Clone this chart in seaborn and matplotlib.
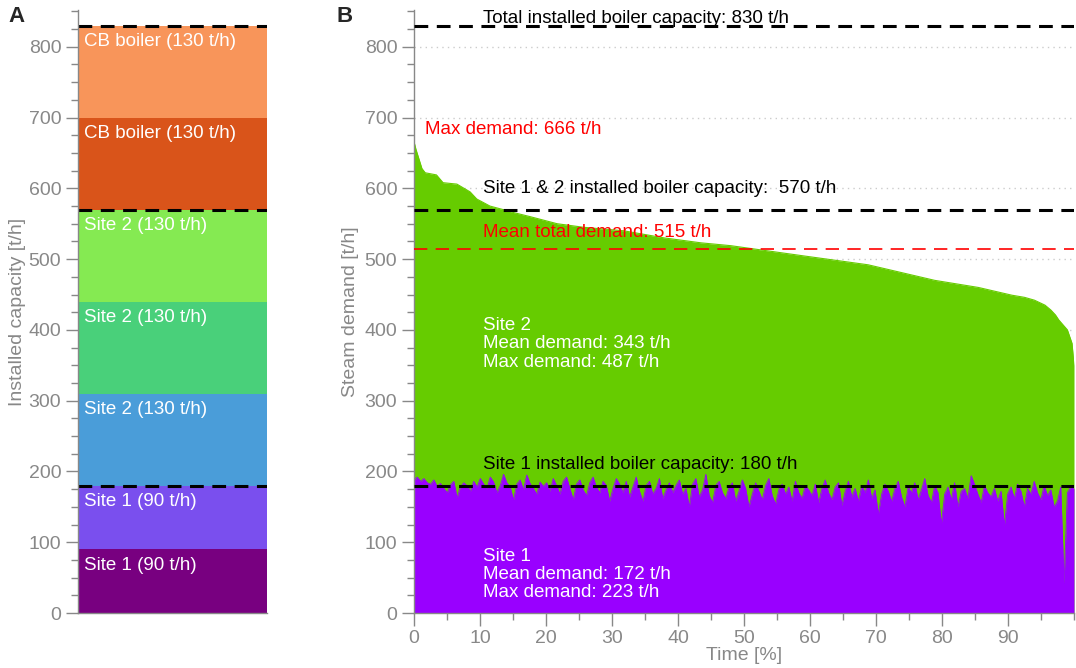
import matplotlib
matplotlib.use("Agg")
import matplotlib.pyplot as plt
from matplotlib.ticker import MultipleLocator
import numpy as np
import seaborn as sns

# Panel A: installed boiler units, bottom to top
unit_labels = ["Site 1 (90 t/h)", "Site 1 (90 t/h)", "Site 2 (130 t/h)", "Site 2 (130 t/h)",
               "Site 2 (130 t/h)", "CB boiler (130 t/h)", "CB boiler (130 t/h)"]
unit_caps = [90, 90, 130, 130, 130, 130, 130]
unit_colors = ["#780080", "#7a4fee", "#4a9dd9", "#49d07a", "#85ea52", "#d9541a", "#f8955a"]
capacity_levels = [180, 570, 830]

# Panel B: load duration curve of total demand (percent of time, t/h)
pct_total = [0, 0.3, 0.8, 1.2, 1.7, 3.4, 4.4, 6.5, 8.5, 9.5, 11.5, 13.5, 15.0, 17.6,
             21.7, 25.7, 31.8, 37.9, 43.5, 48.0, 58.7, 68.8, 78.9, 85.5, 90.6, 92.5,
             94.0, 95.6, 96.5, 97.2, 97.7, 99.0, 99.7, 100]
total_demand = [666, 655, 640, 628, 622, 619, 608, 606, 595, 585, 575, 570, 566, 560,
                550, 545, 540, 530, 523, 519, 505, 492, 470, 460, 449, 446,
                442, 435, 428, 421, 414, 400, 381, 350]

# Site 1 demand at the same sorted hours (0.5 % steps)
site1_demand = [
    188, 192, 186, 190, 184, 182, 188, 179, 183, 176, 170, 181, 186, 163, 178, 184, 180, 172, 186, 178,
    190, 182, 176, 192, 185, 170, 180, 196, 184, 178, 160, 182, 188, 174, 195, 183, 176, 168, 185, 179,
    184, 172, 190, 180, 168, 186, 192, 176, 160, 182, 188, 174, 166, 184, 192, 178, 170, 186, 180, 158,
    176, 190, 182, 170, 186, 164, 178, 192, 172, 158, 180, 186, 168, 176, 190, 162, 174, 184, 170, 180,
    188, 168, 176, 150, 182, 190, 164, 174, 196, 166, 156, 180, 186, 170, 162, 178, 184, 158, 172, 188,
    176, 150, 168, 184, 172, 160, 180, 190, 166, 154, 174, 182, 168, 178, 158, 186, 170, 162, 180, 174,
    166, 182, 156, 176, 188, 170, 160, 178, 184, 152, 172, 186, 164, 176, 158, 180, 170, 188, 162, 174,
    140, 168, 182, 172, 158, 176, 186, 164, 150, 178, 170, 184, 160, 174, 190, 166, 156, 180, 170, 126,
    168, 178, 160, 184, 150, 172, 176, 162, 194, 182, 168, 156, 180, 170, 164, 176, 158, 172, 124, 168,
    178, 162, 182, 172, 150, 176, 168, 186, 170, 160, 180, 166, 174, 150, 158, 178, 42, 170, 178, 176,
]

annotations = [
    (10.5, 840, "Total installed boiler capacity: 830 t/h", "black"),
    (10.5, 600, "Site 1 & 2 installed boiler capacity:  570 t/h", "black"),
    (10.5, 210, "Site 1 installed boiler capacity: 180 t/h", "black"),
    (1.7, 683, "Max demand: 666 t/h", "red"),
    (10.5, 537, "Mean total demand: 515 t/h", "red"),
]

sns.set_theme(style="white")
plt.rcParams["font.family"] = ["Liberation Sans", "DejaVu Sans"]
grey = "#888888"

fig = plt.figure(figsize=(10.76, 6.68), dpi=100)
ax_a = fig.add_axes([78 / 1076, 55 / 668, 189 / 1076, 603 / 668])
ax_b = fig.add_axes([414 / 1076, 55 / 668, 660 / 1076, 603 / 668])

def style_axis(ax):
    for side in ["top", "right"]:
        ax.spines[side].set_visible(False)
    for side in ["left", "bottom"]:
        ax.spines[side].set_color(grey)
        ax.spines[side].set_linewidth(1)
    ax.set_ylim(0, 852)
    ax.yaxis.set_major_locator(MultipleLocator(100))
    ax.yaxis.set_minor_locator(MultipleLocator(25))
    ax.tick_params(axis="both", which="major", direction="out", length=9, width=1,
                   color=grey, labelcolor=grey, labelsize=14, left=True, bottom=True, pad=3)
    ax.tick_params(axis="both", which="minor", direction="out", length=5, width=1,
                   color=grey, left=True, bottom=True)

# ---- Panel A
style_axis(ax_a)
bottom = 0
for lab, cap, col in zip(unit_labels, unit_caps, unit_colors):
    ax_a.bar(0, cap, bottom=bottom, width=1, color=col, edgecolor="none")
    ax_a.text(-0.47, bottom + cap - 23, lab, color="white", fontsize=13.5, va="center", ha="left")
    bottom += cap
for lvl in capacity_levels:
    ax_a.plot([-0.5, 0.5], [lvl, lvl], color="black", lw=2.2, dashes=(4.5, 2.8))
ax_a.set_xlim(-0.5, 0.5)
ax_a.set_xticks([])
ax_a.set_ylabel("Installed capacity [t/h]", color=grey, fontsize=14, labelpad=2)
fig.text(8 / 1076, 1 - 16 / 668, "A", fontsize=16, fontweight="bold", va="center")

# ---- Panel B
style_axis(ax_b)
ax_b.set_xlim(0, 100)
ax_b.set_xticks(range(0, 100, 10))
ax_b.xaxis.set_minor_locator(MultipleLocator(5))
for g in range(100, 900, 100):
    ax_b.axhline(g, color="#cccccc", lw=1, ls=(0, (1, 3)), zorder=0)

site1_pct = np.linspace(0, 100, len(site1_demand))
ax_b.fill_between(pct_total, 0, total_demand, color="#66cc00", lw=0, zorder=1)
sns.lineplot(x=pct_total, y=total_demand, ax=ax_b, color="#66cc00", lw=0.8, zorder=1)
ax_b.fill_between(site1_pct, 0, site1_demand, color="#9900ff", lw=0, zorder=2)
sns.lineplot(x=site1_pct, y=site1_demand, ax=ax_b, color="#9900ff", lw=0.6, zorder=2)

for lvl in capacity_levels:
    ax_b.axhline(lvl, color="black", lw=2.2, dashes=(4.5, 2.8), zorder=3)
ax_b.axhline(515, color="#ff0000", lw=1.2, dashes=(8, 5), zorder=3)

for x, y, txt, col in annotations:
    ax_b.text(x, y, txt, color=col, fontsize=13.5, va="center", ha="left", zorder=4)
ax_b.text(10.5, 418, "Site 2\nMean demand: 343 t/h\nMax demand: 487 t/h", color="white",
          fontsize=13.5, va="top", ha="left", linespacing=1.1, zorder=4)
ax_b.text(10.5, 92, "Site 1\nMean demand: 172 t/h\nMax demand: 223 t/h", color="white",
          fontsize=13.5, va="top", ha="left", linespacing=1.1, zorder=4)

ax_b.set_xlabel("Time [%]", color=grey, fontsize=14, labelpad=0)
ax_b.set_ylabel("Steam demand [t/h]", color=grey, fontsize=14, labelpad=4)
fig.text(337 / 1076, 1 - 16 / 668, "B", fontsize=16, fontweight="bold", va="center")

fig.savefig("out.png", dpi=100)
